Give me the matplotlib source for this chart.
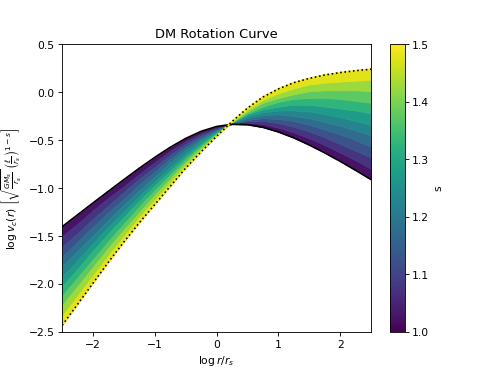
import numpy as np
import matplotlib
matplotlib.use("Agg")
import matplotlib.pyplot as plt
from matplotlib.colors import Normalize
from matplotlib.cm import ScalarMappable

# log r / r_s sample positions
log_r = [-2.5, -2.25, -2.0, -1.75, -1.5, -1.25, -1.0, -0.75, -0.5, -0.25, 0.0,
         0.25, 0.5, 0.75, 1.0, 1.25, 1.5, 1.75, 2.0, 2.25, 2.5]

# fractional index s of each curve
s_values = [1.00, 1.05, 1.10, 1.15, 1.20, 1.25, 1.30, 1.35, 1.40, 1.45, 1.50]

# log v_c, one list per s
v_s100 = [-1.401, -1.277, -1.153, -1.031, -0.910, -0.791, -0.678, -0.573, -0.481, -0.407, -0.357,
          -0.334, -0.338, -0.366, -0.414, -0.476, -0.550, -0.632, -0.720, -0.814, -0.911]
v_s105 = [-1.50, -1.37, -1.23, -1.10, -0.98, -0.85, -0.73, -0.61, -0.51, -0.43, -0.37,
          -0.33, -0.32, -0.33, -0.37, -0.42, -0.48, -0.55, -0.63, -0.71, -0.80]
v_s110 = [-1.61, -1.47, -1.32, -1.18, -1.04, -0.90, -0.78, -0.65, -0.54, -0.45, -0.38,
          -0.33, -0.30, -0.30, -0.32, -0.36, -0.41, -0.47, -0.54, -0.61, -0.68]
v_s115 = [-1.71, -1.56, -1.40, -1.25, -1.11, -0.96, -0.83, -0.69, -0.57, -0.47, -0.39,
          -0.33, -0.29, -0.27, -0.28, -0.30, -0.34, -0.39, -0.44, -0.50, -0.57]
v_s120 = [-1.81, -1.65, -1.49, -1.33, -1.17, -1.02, -0.88, -0.73, -0.60, -0.49, -0.40,
          -0.32, -0.27, -0.24, -0.23, -0.25, -0.27, -0.31, -0.35, -0.40, -0.45]
v_s125 = [-1.92, -1.75, -1.57, -1.40, -1.24, -1.08, -0.93, -0.78, -0.64, -0.51, -0.41,
          -0.32, -0.25, -0.21, -0.19, -0.19, -0.20, -0.23, -0.26, -0.30, -0.34]
v_s130 = [-2.02, -1.84, -1.65, -1.47, -1.30, -1.13, -0.97, -0.82, -0.67, -0.54, -0.42,
          -0.32, -0.23, -0.18, -0.15, -0.13, -0.13, -0.15, -0.17, -0.19, -0.22]
v_s135 = [-2.12, -1.93, -1.74, -1.55, -1.37, -1.19, -1.02, -0.86, -0.70, -0.56, -0.43,
          -0.31, -0.22, -0.15, -0.10, -0.07, -0.06, -0.06, -0.07, -0.09, -0.11]
v_s140 = [-2.22, -2.02, -1.82, -1.62, -1.43, -1.25, -1.07, -0.90, -0.73, -0.58, -0.44,
          -0.31, -0.20, -0.11, -0.06, -0.02, 0.01, 0.02, 0.02, 0.02, 0.01]
v_s145 = [-2.33, -2.12, -1.91, -1.70, -1.50, -1.30, -1.12, -0.94, -0.76, -0.60, -0.45,
          -0.31, -0.18, -0.08, -0.01, 0.04, 0.08, 0.10, 0.11, 0.12, 0.13]
v_s150 = [-2.43, -2.21, -1.99, -1.77, -1.56, -1.36, -1.17, -0.98, -0.79, -0.62, -0.46,
          -0.305, -0.165, -0.05, 0.035, 0.10, 0.145, 0.18, 0.205, 0.225, 0.24]

curves = [v_s100, v_s105, v_s110, v_s115, v_s120, v_s125,
          v_s130, v_s135, v_s140, v_s145, v_s150]

cmap = plt.get_cmap("viridis")
norm = Normalize(vmin=1.0, vmax=1.5)

fig, ax = plt.subplots(figsize=(6.4, 4.8), dpi=77.8125)

# colour the space between neighbouring curves
for i in range(len(curves) - 1):
    s_mid = 0.5 * (s_values[i] + s_values[i + 1])
    col = cmap(norm(s_mid))
    ax.fill_between(log_r, curves[i], curves[i + 1], color=col, lw=0.6,
                    edgecolor=col)

ax.plot(log_r, v_s100, color="black", lw=1.5)
ax.plot(log_r, v_s150, color=cmap(1.0), lw=1.5)
ax.plot(log_r, v_s150, color="black", lw=1.5, ls=":")

ax.set_xlim(-2.5, 2.5)
ax.set_ylim(-2.5, 0.5)
ax.set_title("DM Rotation Curve")
ax.set_xlabel(r"$\log r/r_s$")
ax.set_ylabel(r"$\log v_c(r)\ \left[\sqrt{\frac{GM_s}{r_s}}\,\left(\frac{\ell}{r_s}\right)^{1-s}\right]$")

sm = ScalarMappable(norm=norm, cmap=cmap)
sm.set_array([])
cb = fig.colorbar(sm, ax=ax)
cb.set_label("s")
cb.set_ticks([1.0, 1.1, 1.2, 1.3, 1.4, 1.5])

fig.savefig("out.png", dpi=77.8125)
